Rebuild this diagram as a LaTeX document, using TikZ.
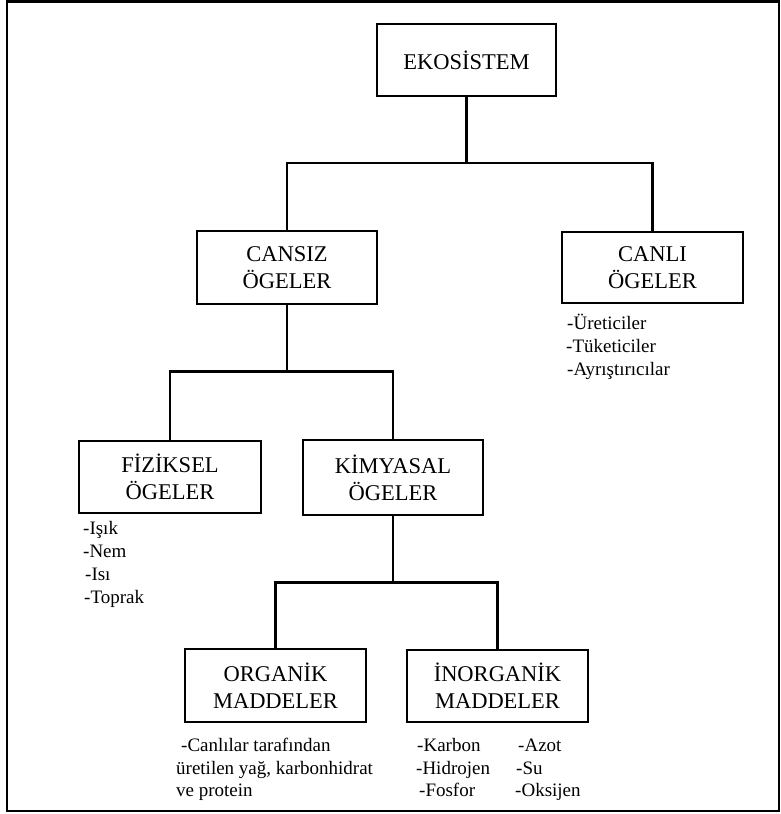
\documentclass[tikz,border=0pt]{standalone}
\usepackage{fontspec}
\setmainfont{Liberation Serif}
\begin{document}
\begin{tikzpicture}[x=1pt,y=-1pt,
  box/.style={draw, line width=2.8pt, align=center, inner sep=0pt,
    font=\fontsize{22.5}{27}\selectfont},
  lst/.style={inner sep=0pt, anchor=base west, font=\fontsize{19}{23}\selectfont},
  conn/.style={line width=2.2pt}]
\useasboundingbox (0,0) rectangle (781,814);
\draw[line width=2.8pt] (7,1.5) rectangle (779,811);
% boxes
\node[box, minimum width=179pt, minimum height=72pt] (eko) at (466.5,60) {EKOSİSTEM};
\node[box, minimum width=180pt, minimum height=73pt] (cansiz) at (287,267.5) {CANSIZ\\ÖGELER};
\node[box, minimum width=181pt, minimum height=71pt] (canli) at (652.5,267.5) {CANLI\\ÖGELER};
\node[box, minimum width=182pt, minimum height=72pt] (fiz) at (170,477) {FİZİKSEL\\ÖGELER};
\node[box, minimum width=180pt, minimum height=75pt] (kim) at (393,477.5) {KİMYASAL\\ÖGELER};
\node[box, minimum width=181pt, minimum height=73pt] (org) at (275.5,685.5) {ORGANİK\\MADDELER};
\node[box, minimum width=181pt, minimum height=72pt] (inorg) at (497.5,686) {İNORGANİK\\MADDELER};
% connectors
\coordinate (j1) at (468,163);
\draw[conn] (eko.south) -- (eko.south |- j1);
\draw[conn] (cansiz.north) |- (j1) -| (canli.north);
\coordinate (j2) at (287,371.5);
\draw[conn] (cansiz.south) -- (j2);
\draw[conn] (fiz.north) |- (j2) -| (kim.north);
\coordinate (j3) at (393,582.5);
\draw[conn] (kim.south) -- (j3);
\draw[conn] (org.north) |- (j3) -| (inorg.north);
% lists
\node[lst] (c1) at (567,329.5) {-Üreticiler};
\node[lst] (c2) at (566,352.5) {-Tüketiciler};
\node[lst] (c3) at (567,375.5) {-Ayrıştırıcılar};
\node[lst] (f1) at (83,534.5) {-Işık};
\node[lst] (f2) at (83,557.5) {-Nem};
\node[lst] (f3) at (85,580.5) {-Isı};
\node[lst] (f4) at (84,603.5) {-Toprak};
\node[lst] (o1) at (181,751.5) {-Canlılar tarafından};
\node[lst] (o2) at (176,774) {üretilen yağ, karbonhidrat};
\node[lst] (o3) at (176,796.5) {ve protein};
\node[lst] (i1) at (417,751.5) {-Karbon};
\node[lst] (i2) at (416,774) {-Hidrojen};
\node[lst] (i3) at (419,796.5) {-Fosfor};
\node[lst] (i4) at (518,751.5) {-Azot};
\node[lst] (i5) at (516,774) {-Su};
\node[lst] (i6) at (515,796.5) {-Oksijen};
\end{tikzpicture}
\end{document}
